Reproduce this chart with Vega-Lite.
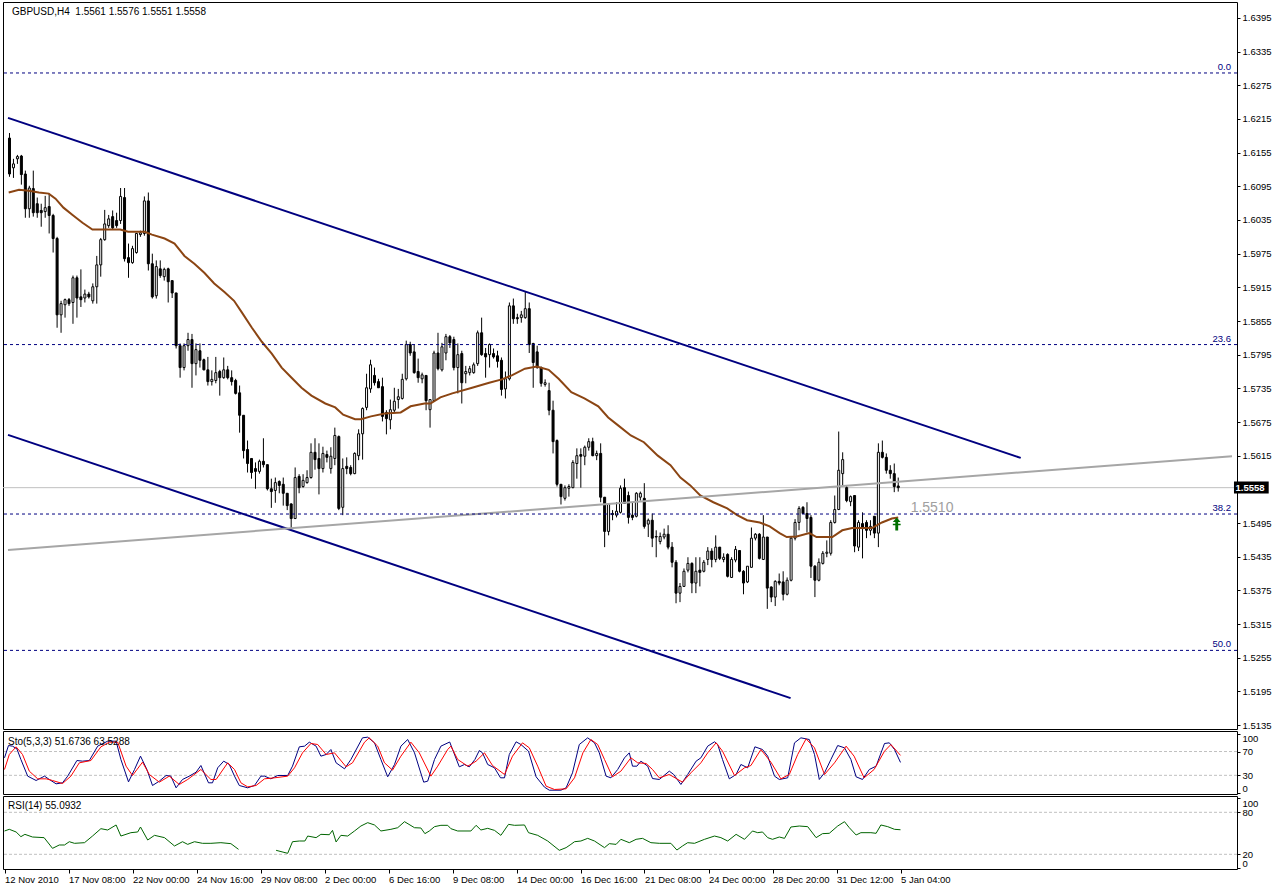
{
"$schema":"https://vega.github.io/schema/vega-lite/v6.json",
"background":"white",
"padding":{"left":2,"top":1,"right":0,"bottom":0},
"bounds":"flush",
"spacing":2,
"config":{"view":{"stroke":"black","strokeWidth":1},"font":"Liberation Sans","axis":{"labelFont":"Liberation Sans","labelFontSize":9.5,"labelColor":"black","tickColor":"black","tickSize":3,"domain":false,"grid":false,"labelPadding":2,"labelFlush":false,"labelOverlap":false,"labelBound":false}},
"datasets":{
"k":[
{"d":0,"o":1.6181,"h":1.6190,"l":1.6112,"c":1.6117},{"d":1,"o":1.6128,"h":1.6144,"l":1.6110,"c":1.6135},{"d":2,"o":1.6144,"h":1.6151,"l":1.6135,"c":1.6148},{"d":3,"o":1.6149,"h":1.6151,"l":1.6098,"c":1.6116},{"d":4,"o":1.6117,"h":1.6123,"l":1.6039,"c":1.6055},{"d":5,"o":1.6055,"h":1.6096,"l":1.6039,"c":1.6092},{"d":6,"o":1.6091,"h":1.6123,"l":1.6041,"c":1.6048},{"d":7,"o":1.6064,"h":1.6075,"l":1.6039,"c":1.6048},{"d":8,"o":1.6052,"h":1.6064,"l":1.6023,"c":1.6048},{"d":9,"o":1.6050,"h":1.6078,"l":1.6039,"c":1.6057},
{"d":10,"o":1.6059,"h":1.6082,"l":1.6011,"c":1.6043},{"d":11,"o":1.6043,"h":1.6046,"l":1.5977,"c":1.6002},{"d":12,"o":1.6002,"h":1.6005,"l":1.5843,"c":1.5866},{"d":13,"o":1.5866,"h":1.5891,"l":1.5834,"c":1.5886},{"d":14,"o":1.5884,"h":1.5895,"l":1.5861,"c":1.5893},{"d":15,"o":1.5893,"h":1.5896,"l":1.5882,"c":1.5886},{"d":16,"o":1.5888,"h":1.5936,"l":1.5850,"c":1.5932},{"d":17,"o":1.5932,"h":1.5936,"l":1.5861,"c":1.5896},{"d":18,"o":1.5898,"h":1.5947,"l":1.5880,"c":1.5893},{"d":19,"o":1.5896,"h":1.5911,"l":1.5888,"c":1.5903},
{"d":20,"o":1.5903,"h":1.5907,"l":1.5895,"c":1.5898},{"d":21,"o":1.5891,"h":1.5922,"l":1.5886,"c":1.5916},{"d":22,"o":1.5916,"h":1.5971,"l":1.5886,"c":1.5955},{"d":23,"o":1.5955,"h":1.6003,"l":1.5934,"c":1.6000},{"d":24,"o":1.6000,"h":1.6053,"l":1.5998,"c":1.6028},{"d":25,"o":1.6025,"h":1.6044,"l":1.6021,"c":1.6037},{"d":26,"o":1.6041,"h":1.6052,"l":1.6018,"c":1.6021},{"d":27,"o":1.6034,"h":1.6048,"l":1.6021,"c":1.6025},{"d":28,"o":1.6034,"h":1.6092,"l":1.6028,"c":1.6077},{"d":29,"o":1.6075,"h":1.6092,"l":1.5961,"c":1.5966},
{"d":30,"o":1.5968,"h":1.5993,"l":1.5932,"c":1.5959},{"d":31,"o":1.5959,"h":1.5989,"l":1.5957,"c":1.5984},{"d":32,"o":1.5977,"h":1.6012,"l":1.5975,"c":1.6011},{"d":33,"o":1.6009,"h":1.6016,"l":1.6005,"c":1.6012},{"d":34,"o":1.6011,"h":1.6077,"l":1.6007,"c":1.6069},{"d":35,"o":1.6069,"h":1.6084,"l":1.5945,"c":1.5957},{"d":36,"o":1.5957,"h":1.5975,"l":1.5895,"c":1.5898},{"d":37,"o":1.5900,"h":1.5963,"l":1.5895,"c":1.5952},{"d":38,"o":1.5948,"h":1.5963,"l":1.5932,"c":1.5936},{"d":39,"o":1.5934,"h":1.5950,"l":1.5927,"c":1.5947},
{"d":40,"o":1.5948,"h":1.5950,"l":1.5888,"c":1.5925},{"d":41,"o":1.5927,"h":1.5927,"l":1.5896,"c":1.5905},{"d":42,"o":1.5905,"h":1.5905,"l":1.5806,"c":1.5811},{"d":43,"o":1.5811,"h":1.5815,"l":1.5754,"c":1.5772},{"d":44,"o":1.5772,"h":1.5815,"l":1.5767,"c":1.5811},{"d":45,"o":1.5811,"h":1.5834,"l":1.5802,"c":1.5822},{"d":46,"o":1.5822,"h":1.5832,"l":1.5736,"c":1.5779},{"d":47,"o":1.5779,"h":1.5815,"l":1.5758,"c":1.5804},{"d":48,"o":1.5802,"h":1.5815,"l":1.5772,"c":1.5785},{"d":49,"o":1.5786,"h":1.5788,"l":1.5767,"c":1.5768},
{"d":50,"o":1.5768,"h":1.5791,"l":1.5740,"c":1.5747},{"d":51,"o":1.5747,"h":1.5767,"l":1.5740,"c":1.5751},{"d":52,"o":1.5749,"h":1.5791,"l":1.5744,"c":1.5763},{"d":53,"o":1.5765,"h":1.5768,"l":1.5722,"c":1.5754},{"d":54,"o":1.5754,"h":1.5790,"l":1.5752,"c":1.5768},{"d":55,"o":1.5768,"h":1.5775,"l":1.5751,"c":1.5754},{"d":56,"o":1.5754,"h":1.5767,"l":1.5740,"c":1.5747},{"d":57,"o":1.5749,"h":1.5752,"l":1.5724,"c":1.5726},{"d":58,"o":1.5727,"h":1.5740,"l":1.5656,"c":1.5687},{"d":59,"o":1.5687,"h":1.5687,"l":1.5610,"c":1.5624},
{"d":60,"o":1.5626,"h":1.5642,"l":1.5585,"c":1.5601},{"d":61,"o":1.5610,"h":1.5610,"l":1.5574,"c":1.5585},{"d":62,"o":1.5592,"h":1.5603,"l":1.5556,"c":1.5587},{"d":63,"o":1.5587,"h":1.5608,"l":1.5583,"c":1.5605},{"d":64,"o":1.5605,"h":1.5646,"l":1.5594,"c":1.5599},{"d":65,"o":1.5599,"h":1.5599,"l":1.5553,"c":1.5556},{"d":66,"o":1.5556,"h":1.5574,"l":1.5522,"c":1.5551},{"d":67,"o":1.5553,"h":1.5576,"l":1.5531,"c":1.5567},{"d":68,"o":1.5569,"h":1.5571,"l":1.5548,"c":1.5562},{"d":69,"o":1.5564,"h":1.5576,"l":1.5526,"c":1.5548},
{"d":70,"o":1.5548,"h":1.5548,"l":1.5518,"c":1.5526},{"d":71,"o":1.5529,"h":1.5530,"l":1.5485,"c":1.5503},{"d":72,"o":1.5503,"h":1.5594,"l":1.5502,"c":1.5576},{"d":73,"o":1.5578,"h":1.5582,"l":1.5548,"c":1.5558},{"d":74,"o":1.5560,"h":1.5582,"l":1.5558,"c":1.5571},{"d":75,"o":1.5567,"h":1.5589,"l":1.5565,"c":1.5576},{"d":76,"o":1.5576,"h":1.5637,"l":1.5574,"c":1.5621},{"d":77,"o":1.5621,"h":1.5646,"l":1.5590,"c":1.5608},{"d":78,"o":1.5610,"h":1.5637,"l":1.5546,"c":1.5592},{"d":79,"o":1.5592,"h":1.5631,"l":1.5585,"c":1.5619},
{"d":80,"o":1.5617,"h":1.5624,"l":1.5603,"c":1.5612},{"d":81,"o":1.5592,"h":1.5630,"l":1.5583,"c":1.5614},{"d":82,"o":1.5610,"h":1.5665,"l":1.5598,"c":1.5651},{"d":83,"o":1.5649,"h":1.5651,"l":1.5518,"c":1.5521},{"d":84,"o":1.5523,"h":1.5610,"l":1.5509,"c":1.5592},{"d":85,"o":1.5596,"h":1.5612,"l":1.5582,"c":1.5592},{"d":86,"o":1.5594,"h":1.5598,"l":1.5580,"c":1.5583},{"d":87,"o":1.5583,"h":1.5621,"l":1.5582,"c":1.5619},{"d":88,"o":1.5615,"h":1.5662,"l":1.5607,"c":1.5654},{"d":89,"o":1.5654,"h":1.5701,"l":1.5608,"c":1.5699},
{"d":90,"o":1.5701,"h":1.5761,"l":1.5696,"c":1.5736},{"d":91,"o":1.5734,"h":1.5786,"l":1.5727,"c":1.5777},{"d":92,"o":1.5758,"h":1.5772,"l":1.5740,"c":1.5745},{"d":93,"o":1.5747,"h":1.5752,"l":1.5736,"c":1.5736},{"d":94,"o":1.5738,"h":1.5754,"l":1.5676,"c":1.5685},{"d":95,"o":1.5692,"h":1.5696,"l":1.5653,"c":1.5681},{"d":96,"o":1.5679,"h":1.5715,"l":1.5662,"c":1.5697},{"d":97,"o":1.5696,"h":1.5736,"l":1.5692,"c":1.5712},{"d":98,"o":1.5715,"h":1.5734,"l":1.5699,"c":1.5720},{"d":99,"o":1.5717,"h":1.5761,"l":1.5715,"c":1.5751},
{"d":100,"o":1.5752,"h":1.5820,"l":1.5749,"c":1.5813},{"d":101,"o":1.5813,"h":1.5818,"l":1.5793,"c":1.5798},{"d":102,"o":1.5800,"h":1.5813,"l":1.5761,"c":1.5763},{"d":103,"o":1.5765,"h":1.5788,"l":1.5745,"c":1.5754},{"d":104,"o":1.5752,"h":1.5763,"l":1.5744,"c":1.5759},{"d":105,"o":1.5758,"h":1.5758,"l":1.5696,"c":1.5713},{"d":106,"o":1.5697,"h":1.5715,"l":1.5665,"c":1.5715},{"d":107,"o":1.5713,"h":1.5802,"l":1.5712,"c":1.5798},{"d":108,"o":1.5798,"h":1.5834,"l":1.5767,"c":1.5770},{"d":109,"o":1.5768,"h":1.5816,"l":1.5765,"c":1.5809},
{"d":110,"o":1.5798,"h":1.5832,"l":1.5785,"c":1.5827},{"d":111,"o":1.5827,"h":1.5830,"l":1.5807,"c":1.5816},{"d":112,"o":1.5822,"h":1.5827,"l":1.5767,"c":1.5772},{"d":113,"o":1.5772,"h":1.5815,"l":1.5726,"c":1.5795},{"d":114,"o":1.5797,"h":1.5802,"l":1.5708,"c":1.5745},{"d":115,"o":1.5761,"h":1.5775,"l":1.5744,"c":1.5765},{"d":116,"o":1.5763,"h":1.5775,"l":1.5758,"c":1.5770},{"d":117,"o":1.5763,"h":1.5781,"l":1.5761,"c":1.5777},{"d":118,"o":1.5779,"h":1.5838,"l":1.5775,"c":1.5834},{"d":119,"o":1.5834,"h":1.5861,"l":1.5793,"c":1.5795},
{"d":120,"o":1.5797,"h":1.5807,"l":1.5754,"c":1.5791},{"d":121,"o":1.5795,"h":1.5815,"l":1.5772,"c":1.5813},{"d":122,"o":1.5797,"h":1.5806,"l":1.5788,"c":1.5791},{"d":123,"o":1.5793,"h":1.5802,"l":1.5772,"c":1.5783},{"d":124,"o":1.5785,"h":1.5790,"l":1.5722,"c":1.5733},{"d":125,"o":1.5734,"h":1.5765,"l":1.5717,"c":1.5752},{"d":126,"o":1.5752,"h":1.5888,"l":1.5749,"c":1.5882},{"d":127,"o":1.5882,"h":1.5895,"l":1.5850,"c":1.5859},{"d":128,"o":1.5861,"h":1.5868,"l":1.5850,"c":1.5859},{"d":129,"o":1.5861,"h":1.5873,"l":1.5852,"c":1.5866},
{"d":130,"o":1.5861,"h":1.5907,"l":1.5859,"c":1.5877},{"d":131,"o":1.5877,"h":1.5888,"l":1.5798,"c":1.5813},{"d":132,"o":1.5815,"h":1.5816,"l":1.5736,"c":1.5781},{"d":133,"o":1.5800,"h":1.5811,"l":1.5770,"c":1.5772},{"d":134,"o":1.5772,"h":1.5774,"l":1.5738,"c":1.5744},{"d":135,"o":1.5742,"h":1.5751,"l":1.5738,"c":1.5745},{"d":136,"o":1.5731,"h":1.5745,"l":1.5687,"c":1.5696},{"d":137,"o":1.5696,"h":1.5713,"l":1.5619,"c":1.5640},{"d":138,"o":1.5642,"h":1.5644,"l":1.5560,"c":1.5564},{"d":139,"o":1.5564,"h":1.5564,"l":1.5528,"c":1.5542},
{"d":140,"o":1.5539,"h":1.5562,"l":1.5535,"c":1.5558},{"d":141,"o":1.5557,"h":1.5564,"l":1.5542,"c":1.5560},{"d":142,"o":1.5558,"h":1.5607,"l":1.5557,"c":1.5603},{"d":143,"o":1.5601,"h":1.5628,"l":1.5574,"c":1.5615},{"d":144,"o":1.5617,"h":1.5628,"l":1.5558,"c":1.5614},{"d":145,"o":1.5614,"h":1.5633,"l":1.5598,"c":1.5630},{"d":146,"o":1.5630,"h":1.5646,"l":1.5624,"c":1.5640},{"d":147,"o":1.5640,"h":1.5647,"l":1.5614,"c":1.5615},{"d":148,"o":1.5615,"h":1.5624,"l":1.5607,"c":1.5619},{"d":149,"o":1.5619,"h":1.5637,"l":1.5532,"c":1.5541},
{"d":150,"o":1.5541,"h":1.5541,"l":1.5452,"c":1.5480},{"d":151,"o":1.5480,"h":1.5530,"l":1.5473,"c":1.5529},{"d":152,"o":1.5512,"h":1.5518,"l":1.5500,"c":1.5510},{"d":153,"o":1.5509,"h":1.5532,"l":1.5505,"c":1.5516},{"d":154,"o":1.5514,"h":1.5562,"l":1.5512,"c":1.5557},{"d":155,"o":1.5558,"h":1.5574,"l":1.5529,"c":1.5530},{"d":156,"o":1.5544,"h":1.5551,"l":1.5494,"c":1.5505},{"d":157,"o":1.5509,"h":1.5532,"l":1.5500,"c":1.5505},{"d":158,"o":1.5507,"h":1.5550,"l":1.5505,"c":1.5548},{"d":159,"o":1.5541,"h":1.5551,"l":1.5535,"c":1.5548},
{"d":160,"o":1.5539,"h":1.5566,"l":1.5485,"c":1.5489},{"d":161,"o":1.5493,"h":1.5503,"l":1.5470,"c":1.5500},{"d":162,"o":1.5500,"h":1.5512,"l":1.5452,"c":1.5468},{"d":163,"o":1.5471,"h":1.5482,"l":1.5434,"c":1.5470},{"d":164,"o":1.5462,"h":1.5478,"l":1.5457,"c":1.5471},{"d":165,"o":1.5470,"h":1.5485,"l":1.5466,"c":1.5475},{"d":166,"o":1.5475,"h":1.5491,"l":1.5448,"c":1.5452},{"d":167,"o":1.5452,"h":1.5461,"l":1.5416,"c":1.5425},{"d":168,"o":1.5425,"h":1.5429,"l":1.5352,"c":1.5370},{"d":169,"o":1.5370,"h":1.5388,"l":1.5354,"c":1.5382},
{"d":170,"o":1.5382,"h":1.5414,"l":1.5381,"c":1.5409},{"d":171,"o":1.5411,"h":1.5434,"l":1.5407,"c":1.5423},{"d":172,"o":1.5423,"h":1.5425,"l":1.5370,"c":1.5388},{"d":173,"o":1.5388,"h":1.5434,"l":1.5370,"c":1.5409},{"d":174,"o":1.5411,"h":1.5434,"l":1.5382,"c":1.5407},{"d":175,"o":1.5409,"h":1.5429,"l":1.5407,"c":1.5425},{"d":176,"o":1.5430,"h":1.5452,"l":1.5420,"c":1.5445},{"d":177,"o":1.5445,"h":1.5450,"l":1.5416,"c":1.5430},{"d":178,"o":1.5430,"h":1.5473,"l":1.5425,"c":1.5452},{"d":179,"o":1.5452,"h":1.5452,"l":1.5429,"c":1.5432},
{"d":180,"o":1.5430,"h":1.5441,"l":1.5425,"c":1.5434},{"d":181,"o":1.5439,"h":1.5441,"l":1.5398,"c":1.5400},{"d":182,"o":1.5398,"h":1.5434,"l":1.5397,"c":1.5430},{"d":183,"o":1.5429,"h":1.5454,"l":1.5425,"c":1.5448},{"d":184,"o":1.5446,"h":1.5446,"l":1.5407,"c":1.5409},{"d":185,"o":1.5409,"h":1.5411,"l":1.5368,"c":1.5388},{"d":186,"o":1.5390,"h":1.5418,"l":1.5388,"c":1.5418},{"d":187,"o":1.5416,"h":1.5487,"l":1.5416,"c":1.5468},{"d":188,"o":1.5468,"h":1.5477,"l":1.5464,"c":1.5475},{"d":189,"o":1.5475,"h":1.5477,"l":1.5430,"c":1.5432},
{"d":190,"o":1.5430,"h":1.5509,"l":1.5429,"c":1.5470},{"d":191,"o":1.5470,"h":1.5470,"l":1.5342,"c":1.5379},{"d":192,"o":1.5381,"h":1.5382,"l":1.5354,"c":1.5363},{"d":193,"o":1.5363,"h":1.5393,"l":1.5347,"c":1.5391},{"d":194,"o":1.5391,"h":1.5405,"l":1.5384,"c":1.5388},{"d":195,"o":1.5390,"h":1.5409,"l":1.5357,"c":1.5368},{"d":196,"o":1.5368,"h":1.5398,"l":1.5366,"c":1.5393},{"d":197,"o":1.5393,"h":1.5470,"l":1.5391,"c":1.5468},{"d":198,"o":1.5468,"h":1.5502,"l":1.5464,"c":1.5496},{"d":199,"o":1.5496,"h":1.5525,"l":1.5482,"c":1.5521},
{"d":200,"o":1.5523,"h":1.5525,"l":1.5511,"c":1.5512},{"d":201,"o":1.5512,"h":1.5532,"l":1.5478,"c":1.5503},{"d":202,"o":1.5505,"h":1.5509,"l":1.5397,"c":1.5418},{"d":203,"o":1.5418,"h":1.5420,"l":1.5363,"c":1.5393},{"d":204,"o":1.5393,"h":1.5432,"l":1.5391,"c":1.5425},{"d":205,"o":1.5423,"h":1.5445,"l":1.5421,"c":1.5441},{"d":206,"o":1.5441,"h":1.5464,"l":1.5434,"c":1.5443},{"d":207,"o":1.5441,"h":1.5500,"l":1.5437,"c":1.5496},{"d":208,"o":1.5496,"h":1.5544,"l":1.5494,"c":1.5519},{"d":209,"o":1.5519,"h":1.5658,"l":1.5518,"c":1.5589},
{"d":210,"o":1.5583,"h":1.5621,"l":1.5562,"c":1.5608},{"d":211,"o":1.5558,"h":1.5562,"l":1.5532,"c":1.5535},{"d":212,"o":1.5533,"h":1.5544,"l":1.5525,"c":1.5542},{"d":213,"o":1.5544,"h":1.5544,"l":1.5443,"c":1.5454},{"d":214,"o":1.5452,"h":1.5500,"l":1.5445,"c":1.5496},{"d":215,"o":1.5494,"h":1.5514,"l":1.5432,"c":1.5485},{"d":216,"o":1.5496,"h":1.5500,"l":1.5468,"c":1.5482},{"d":217,"o":1.5482,"h":1.5500,"l":1.5473,"c":1.5489},{"d":218,"o":1.5507,"h":1.5507,"l":1.5468,"c":1.5477},{"d":219,"o":1.5477,"h":1.5637,"l":1.5452,"c":1.5621},
{"d":220,"o":1.5621,"h":1.5642,"l":1.5610,"c":1.5612},{"d":221,"o":1.5612,"h":1.5619,"l":1.5583,"c":1.5589},{"d":222,"o":1.5589,"h":1.5598,"l":1.5574,"c":1.5583},{"d":223,"o":1.5583,"h":1.5601,"l":1.5550,"c":1.5560},{"d":224,"o":1.5561,"h":1.5576,"l":1.5551,"c":1.5558}
],
"ma":[
{"d":-0.2,"v":1.6084},{"d":2.4,"v":1.6089},{"d":4.9,"v":1.6087},{"d":7.4,"v":1.6084},{"d":9.9,"v":1.6082},{"d":11.6,"v":1.6073},{"d":13.6,"v":1.6057},{"d":15.9,"v":1.6044},{"d":18.4,"v":1.6030},{"d":20.9,"v":1.6018},{"d":24.1,"v":1.6018},{"d":27.9,"v":1.6018},{"d":29.9,"v":1.6014},{"d":34.1,"v":1.6014},{"d":35.9,"v":1.6009},{"d":39.1,"v":1.6002},{"d":41.6,"v":1.5993},{"d":44.1,"v":1.5971},{"d":46.6,"v":1.5957},{"d":49.1,"v":1.5941},{"d":51.6,"v":1.5922},{"d":54.1,"v":1.5907},{"d":56.6,"v":1.5891},{"d":58.6,"v":1.5870},{"d":61.1,"v":1.5843},{"d":63.6,"v":1.5818},{"d":66.1,"v":1.5797},{"d":68.6,"v":1.5772},{"d":71.1,"v":1.5754},{"d":73.6,"v":1.5736},{"d":76.1,"v":1.5722},{"d":79.6,"v":1.5708},{"d":82.1,"v":1.5701},{"d":84.1,"v":1.5688},{"d":87.1,"v":1.5680},{"d":88.6,"v":1.5680},{"d":91.1,"v":1.5685},{"d":94.6,"v":1.5690},{"d":98.6,"v":1.5692},{"d":101.1,"v":1.5703},{"d":104.6,"v":1.5708},{"d":106.1,"v":1.5708},{"d":108.6,"v":1.5719},{"d":111.6,"v":1.5726},{"d":116.6,"v":1.5736},{"d":120.9,"v":1.5745},{"d":124.1,"v":1.5751},{"d":126.6,"v":1.5758},{"d":129.9,"v":1.5770},{"d":132.9,"v":1.5774},{"d":135.9,"v":1.5768},{"d":138.4,"v":1.5752},{"d":141.6,"v":1.5728},{"d":144.9,"v":1.5717},{"d":148.4,"v":1.5703},{"d":150.9,"v":1.5683},{"d":153.4,"v":1.5669},{"d":156.6,"v":1.5651},{"d":159.9,"v":1.5639},{"d":163.4,"v":1.5615},{"d":166.6,"v":1.5598},{"d":169.1,"v":1.5576},{"d":171.6,"v":1.5562},{"d":174.1,"v":1.5544},{"d":177.4,"v":1.5532},{"d":180.9,"v":1.5521},{"d":183.4,"v":1.5509},{"d":185.9,"v":1.5500},{"d":189.1,"v":1.5496},{"d":191.6,"v":1.5489},{"d":194.1,"v":1.5477},{"d":195.9,"v":1.5470},{"d":198.4,"v":1.5471},{"d":201.6,"v":1.5477},{"d":203.4,"v":1.5470},{"d":207.4,"v":1.5470},{"d":209.9,"v":1.5482},{"d":212.4,"v":1.5486},{"d":217.4,"v":1.5486},{"d":219.9,"v":1.5496},{"d":222.4,"v":1.5503},{"d":224,"v":1.5505}
],
"tl":[
{"id":"up","d":-0.375,"p":1.6217},{"id":"up","d":254.875,"p":1.5611},
{"id":"lo","d":-0.375,"p":1.5652},{"id":"lo","d":196.875,"p":1.5183},
{"id":"gr","d":-0.375,"p":1.5447},{"id":"gr","d":308.125,"p":1.5614}
],
"fib":[{"v":1.6297,"t":"0.0"},{"v":1.5813,"t":"23.6"},{"v":1.5511,"t":"38.2"},{"v":1.5268,"t":"50.0"}],
"sb":[
{"d":0,"v":59.4},{"d":1,"v":80.1},{"d":2,"v":79},{"d":3.1,"v":74.5},{"d":4.1,"v":56.6},{"d":5.8,"v":28.6},{"d":7.9,"v":21.3},{"d":10,"v":28.6},{"d":11.2,"v":23},{"d":12.9,"v":15.7},{"d":14.5,"v":17.4},{"d":15.8,"v":28.6},{"d":18.1,"v":54.9},{"d":19.5,"v":53.8},{"d":21.2,"v":54.9},{"d":23.3,"v":79},{"d":24.1,"v":81.8},{"d":25.8,"v":87.4},{"d":27.9,"v":87.4},{"d":29.1,"v":56.6},{"d":31,"v":19},{"d":32.5,"v":39.8},{"d":34,"v":62.2},{"d":35.6,"v":39.8},{"d":37,"v":12.9},{"d":38.7,"v":20.2},{"d":40.4,"v":29.7},{"d":41.6,"v":28.6},{"d":42.9,"v":9},{"d":44.5,"v":23},{"d":46.2,"v":28.6},{"d":47.9,"v":35.3},{"d":49.1,"v":46.5},{"d":51,"v":17.4},{"d":52,"v":17.4},{"d":53.3,"v":42.6},{"d":54.8,"v":53.8},{"d":56.2,"v":48.2},{"d":57.5,"v":28.6},{"d":58.7,"v":12.9},{"d":60.8,"v":9},{"d":62.5,"v":12.9},{"d":64.1,"v":28.6},{"d":65,"v":28.6},{"d":66.6,"v":24.1},{"d":68.3,"v":29.7},{"d":70.8,"v":29.7},{"d":72,"v":45.4},{"d":73.7,"v":77.9},{"d":75,"v":79},{"d":76.2,"v":85.7},{"d":77.9,"v":79},{"d":79.1,"v":62.2},{"d":80.4,"v":65},{"d":81.6,"v":73.4},{"d":82.9,"v":51},{"d":85,"v":40.9},{"d":86.6,"v":56.6},{"d":89.5,"v":93},{"d":90.8,"v":94.1},{"d":92.5,"v":84.6},{"d":94.1,"v":56.6},{"d":95.8,"v":27.5},{"d":97.5,"v":48.2},{"d":99.1,"v":79},{"d":100.8,"v":90.2},{"d":102.5,"v":67.8},{"d":104.8,"v":18.5},{"d":105.8,"v":20.2},{"d":107.5,"v":56.6},{"d":109.1,"v":79},{"d":111.3,"v":86},{"d":113.7,"v":44.3},{"d":115,"v":48.2},{"d":116.2,"v":44.3},{"d":117.6,"v":56.6},{"d":118.7,"v":71.7},{"d":119.5,"v":67.8},{"d":120.8,"v":48.2},{"d":122.5,"v":42.6},{"d":124,"v":25.8},{"d":125,"v":25.8},{"d":126.2,"v":65},{"d":127.9,"v":86.3},{"d":129.1,"v":81.8},{"d":131,"v":70.6},{"d":132.9,"v":27.5},{"d":135,"v":10.1},{"d":136.2,"v":5},{"d":139.1,"v":5},{"d":140.4,"v":9},{"d":142,"v":34.2},{"d":143.7,"v":81.8},{"d":145.8,"v":93},{"d":147.5,"v":84.6},{"d":148.7,"v":67.8},{"d":150.4,"v":28.6},{"d":151.6,"v":25.8},{"d":153.3,"v":39.8},{"d":155,"v":59.4},{"d":156.2,"v":67.8},{"d":157,"v":45.4},{"d":158.1,"v":45.4},{"d":159.1,"v":53.8},{"d":160.8,"v":45.4},{"d":162,"v":24.6},{"d":163.7,"v":23},{"d":166.2,"v":37},{"d":167.3,"v":31.4},{"d":169.1,"v":14.6},{"d":170.8,"v":31.4},{"d":172.9,"v":53.8},{"d":174.1,"v":59.4},{"d":175.8,"v":79},{"d":177.5,"v":86.3},{"d":178.3,"v":81.8},{"d":179.5,"v":56.6},{"d":181.2,"v":24.1},{"d":182.9,"v":31.4},{"d":184.1,"v":48.2},{"d":185.8,"v":42.6},{"d":187.6,"v":77.9},{"d":189.5,"v":73.4},{"d":190.8,"v":62.2},{"d":192.5,"v":28.6},{"d":193.7,"v":23},{"d":195.8,"v":25.8},{"d":197.5,"v":84.6},{"d":199.1,"v":93},{"d":201.2,"v":90.2},{"d":202.5,"v":65},{"d":203.7,"v":23},{"d":205,"v":34.2},{"d":206.6,"v":56.6},{"d":208.3,"v":80.1},{"d":210,"v":76.2},{"d":211.6,"v":56.6},{"d":212.9,"v":27.5},{"d":214.5,"v":23},{"d":216.2,"v":39.8},{"d":217.9,"v":45.4},{"d":220,"v":83.5},{"d":221.2,"v":84.6},{"d":222.5,"v":73.4},{"d":224,"v":51.7}
],
"sr":[
{"d":0,"v":39.8},{"d":1.2,"v":65},{"d":2.9,"v":77.9},{"d":4.5,"v":65},{"d":6.2,"v":37},{"d":8.3,"v":24.1},{"d":10.4,"v":24.1},{"d":12,"v":21.3},{"d":14.5,"v":16.2},{"d":16.6,"v":28.6},{"d":18.7,"v":51},{"d":21.6,"v":54.9},{"d":24.1,"v":77.9},{"d":26.2,"v":85.7},{"d":28.3,"v":85.7},{"d":30.4,"v":45.4},{"d":32,"v":29.7},{"d":34.5,"v":52.1},{"d":36.2,"v":31.4},{"d":38.7,"v":18.5},{"d":41.2,"v":28.6},{"d":43.7,"v":14.6},{"d":45.8,"v":23},{"d":49.1,"v":39.8},{"d":51.6,"v":23},{"d":52.9,"v":23},{"d":55.8,"v":51},{"d":57.5,"v":39.8},{"d":59.1,"v":17.4},{"d":60.8,"v":10.6},{"d":62.9,"v":12.9},{"d":65,"v":24.1},{"d":67.5,"v":25.8},{"d":70.8,"v":28.6},{"d":72.5,"v":42.6},{"d":74.5,"v":67.8},{"d":76.6,"v":83.5},{"d":78.3,"v":81.8},{"d":80.4,"v":65},{"d":82.5,"v":67.8},{"d":85.4,"v":44.3},{"d":87,"v":51},{"d":90,"v":85.7},{"d":91.2,"v":93},{"d":93.3,"v":79},{"d":95,"v":51},{"d":97,"v":38.7},{"d":99.1,"v":62.2},{"d":101.6,"v":85.7},{"d":103.7,"v":67.8},{"d":106.6,"v":28.6},{"d":108.3,"v":45.4},{"d":110.8,"v":73.4},{"d":111.6,"v":79},{"d":113.3,"v":56.6},{"d":115.8,"v":45.4},{"d":117.9,"v":53.8},{"d":120,"v":67.8},{"d":122,"v":46.5},{"d":125,"v":31.4},{"d":127,"v":62.2},{"d":129.5,"v":84.6},{"d":131.2,"v":76.2},{"d":133.3,"v":45.4},{"d":135.4,"v":11.8},{"d":137.5,"v":6.2},{"d":140.4,"v":7.3},{"d":142.5,"v":25.8},{"d":144.6,"v":67.8},{"d":146.6,"v":90.2},{"d":148.3,"v":81.8},{"d":150,"v":56.6},{"d":152,"v":27.5},{"d":154.1,"v":37},{"d":156.6,"v":59.4},{"d":158.3,"v":51},{"d":160.4,"v":49.9},{"d":162,"v":39.8},{"d":163.7,"v":25.8},{"d":166.2,"v":31.4},{"d":169.5,"v":18.5},{"d":171.6,"v":34.2},{"d":174.1,"v":51},{"d":175.8,"v":67.8},{"d":177.9,"v":84.6},{"d":179.5,"v":70.6},{"d":182.5,"v":29.7},{"d":185,"v":42.6},{"d":186.6,"v":46.5},{"d":189.1,"v":73.4},{"d":191.6,"v":52.1},{"d":194.1,"v":24.1},{"d":196.2,"v":31.4},{"d":198.3,"v":65},{"d":200.4,"v":91.3},{"d":202.5,"v":76.2},{"d":205,"v":31.4},{"d":207.5,"v":51},{"d":210.4,"v":79},{"d":212.4,"v":62.2},{"d":214.9,"v":25.8},{"d":217.4,"v":39.8},{"d":220,"v":70.6},{"d":221.6,"v":81.8},{"d":224,"v":63.5}
],
"rs":[
{"s":1,"d":0,"v":53.3},{"s":1,"d":1.2,"v":55.7},{"s":1,"d":2.9,"v":51.9},{"s":1,"d":4.1,"v":45.2},{"s":1,"d":5.1,"v":48.5},{"s":1,"d":7,"v":44.7},{"s":1,"d":9.9,"v":43.8},{"s":1,"d":12,"v":28.5},{"s":1,"d":13.7,"v":33.3},{"s":1,"d":15,"v":33.3},{"s":1,"d":16.2,"v":38},{"s":1,"d":17.5,"v":35.7},{"s":1,"d":20,"v":36.6},{"s":1,"d":22,"v":46.1},{"s":1,"d":24.1,"v":56.6},{"s":1,"d":25.8,"v":54.7},{"s":1,"d":27.9,"v":61.9},{"s":1,"d":29.1,"v":46.1},{"s":1,"d":31.6,"v":50.9},{"s":1,"d":33.3,"v":51.9},{"s":1,"d":34,"v":59},{"s":1,"d":35.8,"v":40.4},{"s":1,"d":37.5,"v":47.1},{"s":1,"d":40,"v":43.8},{"s":1,"d":42.5,"v":31.9},{"s":1,"d":44.5,"v":38},{"s":1,"d":45.8,"v":34.2},{"s":1,"d":47.5,"v":38},{"s":1,"d":49.5,"v":35.7},{"s":1,"d":51.6,"v":35.7},{"s":1,"d":54.1,"v":36.6},{"s":1,"d":56.6,"v":35.2},{"s":1,"d":58.5,"v":27.1},
{"s":2,"d":67.9,"v":25.7},{"s":2,"d":70.8,"v":21.4},{"s":2,"d":72,"v":38},{"s":2,"d":73.7,"v":39},{"s":2,"d":75.1,"v":39},{"s":2,"d":75.8,"v":46.1},{"s":2,"d":77.9,"v":43.8},{"s":2,"d":79.1,"v":48.5},{"s":2,"d":81.2,"v":48},{"s":2,"d":82,"v":54.2},{"s":2,"d":82.9,"v":37.6},{"s":2,"d":84.1,"v":47.1},{"s":2,"d":85.8,"v":46.1},{"s":2,"d":87.5,"v":53.3},{"s":2,"d":89.1,"v":60.4},{"s":2,"d":90.8,"v":65.2},{"s":2,"d":92.5,"v":61.9},{"s":2,"d":94.1,"v":53.3},{"s":2,"d":96.6,"v":55.7},{"s":2,"d":98.3,"v":58},{"s":2,"d":100,"v":66.6},{"s":2,"d":102.5,"v":58},{"s":2,"d":104.1,"v":57.6},{"s":2,"d":105.1,"v":49.5},{"s":2,"d":106.2,"v":53.3},{"s":2,"d":107.5,"v":59.5},{"s":2,"d":109.1,"v":61.4},{"s":2,"d":110.8,"v":61.4},{"s":2,"d":111.6,"v":56.6},{"s":2,"d":113.3,"v":53.3},{"s":2,"d":116.6,"v":53.3},{"s":2,"d":117.9,"v":61.4},{"s":2,"d":119.1,"v":54.7},{"s":2,"d":120.8,"v":57.1},{"s":2,"d":122.5,"v":54.2},{"s":2,"d":124.1,"v":47.1},{"s":2,"d":126,"v":62.8},{"s":2,"d":127.5,"v":61.4},{"s":2,"d":130,"v":61.9},{"s":2,"d":131,"v":50.9},{"s":2,"d":133.3,"v":47.1},{"s":2,"d":135.8,"v":39},{"s":2,"d":138.7,"v":25.7},{"s":2,"d":140.4,"v":29.5},{"s":2,"d":141.6,"v":34.2},{"s":2,"d":142.5,"v":38},{"s":2,"d":144.1,"v":39},{"s":2,"d":145.8,"v":42.8},{"s":2,"d":147.5,"v":39},{"s":2,"d":150,"v":29.5},{"s":2,"d":151.2,"v":35.2},{"s":2,"d":152.9,"v":34.2},{"s":2,"d":154.1,"v":41.4},{"s":2,"d":156.2,"v":36.6},{"s":2,"d":157.9,"v":41.4},{"s":2,"d":159.5,"v":42.8},{"s":2,"d":161.6,"v":36.6},{"s":2,"d":163.7,"v":35.7},{"s":2,"d":166.6,"v":35.7},{"s":2,"d":168.1,"v":26.1},{"s":2,"d":169.5,"v":31.9},{"s":2,"d":170.8,"v":36.6},{"s":2,"d":172.5,"v":35.7},{"s":2,"d":175,"v":41.4},{"s":2,"d":177.5,"v":46.1},{"s":2,"d":179.1,"v":43.8},{"s":2,"d":180.8,"v":39},{"s":2,"d":182.9,"v":48.5},{"s":2,"d":185,"v":41.4},{"s":2,"d":187,"v":53.3},{"s":2,"d":188.3,"v":50.9},{"s":2,"d":189.5,"v":51.9},{"s":2,"d":190.8,"v":43.8},{"s":2,"d":192,"v":41.4},{"s":2,"d":193.7,"v":44.7},{"s":2,"d":195,"v":42.8},{"s":2,"d":196.6,"v":59},{"s":2,"d":198.7,"v":60.4},{"s":2,"d":200.8,"v":59.5},{"s":2,"d":202.9,"v":43.8},{"s":2,"d":204.5,"v":49.5},{"s":2,"d":206.2,"v":50},{"s":2,"d":208.3,"v":60.4},{"s":2,"d":210,"v":66.6},{"s":2,"d":211.2,"v":58},{"s":2,"d":212.9,"v":47.6},{"s":2,"d":214.1,"v":50.9},{"s":2,"d":216.6,"v":50.9},{"s":2,"d":217.9,"v":50},{"s":2,"d":219.1,"v":61.9},{"s":2,"d":220.8,"v":59.5},{"s":2,"d":222.5,"v":55.7},{"s":2,"d":224,"v":55.1}
],
"one":[{"z":0}]
},
"vconcat":[
{"width":1234,"height":727,"layer":[
{"data":{"values":[{"p":1.5558}]},"mark":{"type":"rule","color":"#c0c0c0","strokeWidth":1},"encoding":{"y":{"field":"p","type":"quantitative","scale":{"domain":[1.51279,1.64235],"nice":false,"zero":false},"axis":{"orient":"right","title":null,"format":".4f","tickCount":500,"labelOverlap":false,"labelFlush":false,"labelBound":false,"tickSize":3,"labelPadding":2,"values":[1.6395,1.6335,1.6275,1.6215,1.6155,1.6095,1.6035,1.5975,1.5915,1.5855,1.5795,1.5735,1.5675,1.5615,1.5495,1.5435,1.5375,1.5315,1.5255,1.5195,1.5135]}}}},
{"data":{"name":"k"},"mark":{"type":"rule","color":"black","strokeWidth":1},"encoding":{"x":{"field":"d","type":"quantitative","scale":{"domain":[-0.375,308.125],"nice":false,"zero":false},"axis":null},"y":{"field":"l","type":"quantitative","scale":{"domain":[1.51279,1.64235],"nice":false,"zero":false}},"y2":{"field":"h"}}},
{"data":{"name":"k"},"mark":{"type":"bar","size":2,"stroke":"black","strokeWidth":1},"encoding":{"x":{"field":"d","type":"quantitative","scale":{"domain":[-0.375,308.125],"nice":false,"zero":false},"axis":null},"y":{"field":"o","type":"quantitative","scale":{"domain":[1.51279,1.64235],"nice":false,"zero":false}},"y2":{"field":"c"},"fill":{"condition":{"test":"datum.c >= datum.o","value":"white"},"value":"black"}}},
{"data":{"name":"ma"},"mark":{"type":"line","color":"#8B4513","strokeWidth":2},"encoding":{"x":{"field":"d","type":"quantitative","scale":{"domain":[-0.375,308.125],"nice":false,"zero":false},"axis":null},"y":{"field":"v","type":"quantitative","scale":{"domain":[1.51279,1.64235],"nice":false,"zero":false}}}},
{"data":{"name":"tl"},"mark":{"type":"line","strokeWidth":2},"encoding":{"x":{"field":"d","type":"quantitative","scale":{"domain":[-0.375,308.125],"nice":false,"zero":false},"axis":null},"y":{"field":"p","type":"quantitative","scale":{"domain":[1.51279,1.64235],"nice":false,"zero":false}},"detail":{"field":"id"},"color":{"field":"id","type":"nominal","scale":{"domain":["up","lo","gr"],"range":["#000080","#000080","#a6a6a6"]},"legend":null}}},
{"data":{"name":"fib"},"mark":{"type":"rule","color":"#000080","strokeWidth":1,"strokeDash":[3,3]},"encoding":{"y":{"field":"v","type":"quantitative","scale":{"domain":[1.51279,1.64235],"nice":false,"zero":false}}}},
{"data":{"name":"fib"},"mark":{"type":"text","align":"right","baseline":"bottom","dy":-1,"fontSize":9.5,"color":"#000080"},"encoding":{"x":{"datum":307.875,"type":"quantitative","scale":{"domain":[-0.375,308.125],"nice":false,"zero":false},"axis":null},"y":{"field":"v","type":"quantitative","scale":{"domain":[1.51279,1.64235],"nice":false,"zero":false}},"text":{"field":"t"}}},
{"data":{"name":"one"},"mark":{"type":"text","align":"left","baseline":"middle","fontSize":14,"color":"#a0a0a0","text":"1.5510"},"encoding":{"x":{"datum":227.125,"type":"quantitative","scale":{"domain":[-0.375,308.125],"nice":false,"zero":false},"axis":null},"y":{"datum":1.55226,"type":"quantitative","scale":{"domain":[1.51279,1.64235],"nice":false,"zero":false}}}},
{"data":{"name":"one"},"mark":{"type":"point","shape":"M0,-1L0.6,-0.3L0.22,-0.3L0.22,-0.05L0.6,-0.05L0.6,0.2L0.22,0.2L0.22,1L-0.22,1L-0.22,0.2L-0.6,0.2L-0.6,-0.05L-0.22,-0.05L-0.22,-0.3L-0.6,-0.3Z","filled":true,"color":"#007000","size":170,"opacity":1},"encoding":{"x":{"datum":223.625,"type":"quantitative","scale":{"domain":[-0.375,308.125],"nice":false,"zero":false},"axis":null},"y":{"datum":1.54932,"type":"quantitative","scale":{"domain":[1.51279,1.64235],"nice":false,"zero":false}}}},
{"data":{"name":"one"},"mark":{"type":"text","align":"left","baseline":"middle","fontSize":10,"color":"black","text":"GBPUSD,H4\u00a0 1.5561 1.5576 1.5551 1.5558"},"encoding":{"x":{"datum":0.625,"type":"quantitative","scale":{"domain":[-0.375,308.125],"nice":false,"zero":false},"axis":null},"y":{"datum":1.6406,"type":"quantitative","scale":{"domain":[1.51279,1.64235],"nice":false,"zero":false}}}},
{"data":{"name":"one"},"mark":{"type":"rect","color":"black"},"encoding":{"x":{"datum":308.625,"type":"quantitative","scale":{"domain":[-0.375,308.125],"nice":false,"zero":false},"axis":null},"x2":{"datum":317.375},"y":{"datum":1.55689,"type":"quantitative","scale":{"domain":[1.51279,1.64235],"nice":false,"zero":false}},"y2":{"datum":1.55476}}},
{"data":{"name":"one"},"mark":{"type":"text","align":"left","baseline":"middle","fontSize":9.5,"fontWeight":"bold","color":"white","text":"1.5558"},"encoding":{"x":{"datum":309.0,"type":"quantitative","scale":{"domain":[-0.375,308.125],"nice":false,"zero":false},"axis":null},"y":{"datum":1.5558,"type":"quantitative","scale":{"domain":[1.51279,1.64235],"nice":false,"zero":false}}}}
]},
{"width":1234,"height":63,"layer":[
{"data":{"values":[{"v":70},{"v":30}]},"mark":{"type":"rule","color":"#c0c0c0","strokeWidth":1,"strokeDash":[3,2]},"encoding":{"y":{"field":"v","type":"quantitative","scale":{"domain":[-1.4,104.5],"nice":false,"zero":false},"axis":{"orient":"right","title":null,"format":"d","tickCount":500,"labelOverlap":false,"labelFlush":false,"labelBound":false,"tickSize":3,"labelPadding":2,"values":[100,70,30,0],"labelBaseline":{"condition":[{"test":"datum.value == 100","value":"top"},{"test":"datum.value == 0","value":"bottom"}],"value":"middle"}}}}},
{"data":{"name":"sb"},"mark":{"type":"line","color":"#000080","strokeWidth":1},"encoding":{"x":{"field":"d","type":"quantitative","scale":{"domain":[-0.375,308.125],"nice":false,"zero":false},"axis":null},"y":{"field":"v","type":"quantitative","scale":{"domain":[-1.4,104.5],"nice":false,"zero":false}}}},
{"data":{"name":"sr"},"mark":{"type":"line","color":"#ff0000","strokeWidth":1},"encoding":{"x":{"field":"d","type":"quantitative","scale":{"domain":[-0.375,308.125],"nice":false,"zero":false},"axis":null},"y":{"field":"v","type":"quantitative","scale":{"domain":[-1.4,104.5],"nice":false,"zero":false}}}},
{"data":{"name":"one"},"mark":{"type":"text","align":"left","baseline":"middle","fontSize":10,"color":"black","text":"Sto(5,3,3) 51.6736 63.5288"},"encoding":{"x":{"datum":0.875,"type":"quantitative","scale":{"domain":[-0.375,308.125],"nice":false,"zero":false},"axis":null},"y":{"datum":86.8,"type":"quantitative","scale":{"domain":[-1.4,104.5],"nice":false,"zero":false}}}}
]},
{"width":1234,"height":73,"layer":[
{"data":{"values":[{"v":80},{"v":20}]},"mark":{"type":"rule","color":"#c0c0c0","strokeWidth":1,"strokeDash":[3,2]},"encoding":{"y":{"field":"v","type":"quantitative","scale":{"domain":[-1,103.3],"nice":false,"zero":false},"axis":{"orient":"right","title":null,"format":"d","tickCount":500,"labelOverlap":false,"labelFlush":false,"labelBound":false,"tickSize":3,"labelPadding":2,"values":[100,80,20,0],"labelBaseline":{"condition":[{"test":"datum.value == 100","value":"top"},{"test":"datum.value == 0","value":"bottom"}],"value":"middle"}}}}},
{"data":{"name":"rs"},"mark":{"type":"line","color":"#006400","strokeWidth":1},"encoding":{"x":{"field":"d","type":"quantitative","scale":{"domain":[-0.375,308.125],"nice":false,"zero":false},"axis":{"orient":"bottom","title":null,"tickCount":500,"values":[0,16,32,48,64,80,96,112,128,144,160,176,192,208,224],"labelExpr":"['12 Nov 2010','17 Nov 08:00','22 Nov 00:00','24 Nov 16:00','29 Nov 08:00','2 Dec 00:00','6 Dec 16:00','9 Dec 08:00','14 Dec 00:00','16 Dec 16:00','21 Dec 08:00','24 Dec 00:00','28 Dec 20:00','31 Dec 12:00','5 Jan 04:00'][round(datum.value/16)]","tickSize":4,"labelAlign":"left","labelBaseline":"top","labelPadding":1,"labelOverlap":false,"labelFlush":false,"labelBound":false}},"y":{"field":"v","type":"quantitative","scale":{"domain":[-1,103.3],"nice":false,"zero":false}},"detail":{"field":"s"}}},
{"data":{"name":"one"},"mark":{"type":"text","align":"left","baseline":"middle","fontSize":10,"color":"black","text":"RSI(14) 55.0932"},"encoding":{"x":{"datum":0.875,"type":"quantitative","scale":{"domain":[-0.375,308.125],"nice":false,"zero":false}},"y":{"datum":88.3,"type":"quantitative","scale":{"domain":[-1,103.3],"nice":false,"zero":false}}}}
]}
]
}
